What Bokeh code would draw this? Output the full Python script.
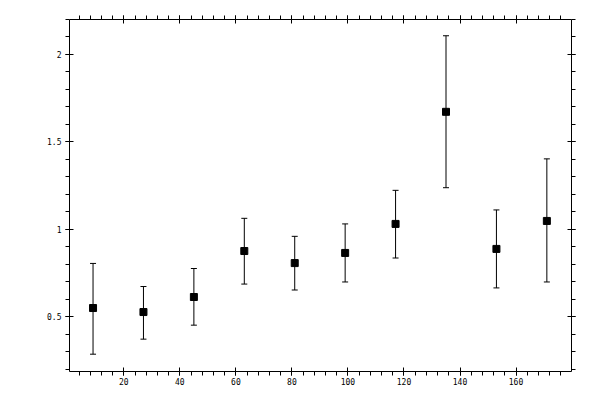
from bokeh.plotting import figure
from bokeh.models import (ColumnDataSource, Whisker, TeeHead, LinearAxis, Range1d,
                          SingleIntervalTicker, CustomJSTickFormatter)
from bokeh.embed import file_html
from bokeh.resources import INLINE

# data
x_vals = [9, 27, 45, 63, 81, 99, 117, 135, 153, 171]
y_vals = [0.550, 0.527, 0.613, 0.876, 0.807, 0.865, 1.031, 1.672, 0.888, 1.048]
y_upper = [0.805, 0.673, 0.776, 1.063, 0.960, 1.031, 1.223, 2.107, 1.111, 1.403]
y_lower = [0.286, 0.372, 0.452, 0.687, 0.653, 0.699, 0.836, 1.238, 0.665, 0.699]

src = ColumnDataSource(dict(x=x_vals, y=y_vals, upper=y_upper, lower=y_lower))

p = figure(width=584, height=390, output_backend="svg", toolbar_location=None,
           x_range=Range1d(0.6, 179.8), y_range=Range1d(0.187, 2.2),
           x_axis_location=None, y_axis_location=None,
           min_border_left=69, min_border_top=19, min_border_right=13, min_border_bottom=19)
p.frame_width = 502
p.frame_height = 352
p.outline_line_color = None
p.xgrid.visible = False
p.ygrid.visible = False
p.background_fill_color = "white"
p.border_fill_color = "white"

yfmt = CustomJSTickFormatter(code="return String(Math.round(tick*10)/10);")
blank = CustomJSTickFormatter(code="return '';")

def style(ax, show_labels):
    ax.axis_line_color = "black"
    ax.axis_line_width = 1
    ax.major_tick_line_color = "black"
    ax.minor_tick_line_color = "black"
    ax.major_tick_in = 4
    ax.major_tick_out = 4
    ax.minor_tick_in = 0
    ax.minor_tick_out = 4
    ax.major_label_text_font = "DejaVu Sans Mono"
    ax.major_label_text_font_size = "8px"
    ax.major_label_text_color = "black"
    if not show_labels:
        ax.formatter = blank
        ax.major_label_standoff = 0

for loc, show in (("below", True), ("above", False)):
    ax = LinearAxis(ticker=SingleIntervalTicker(interval=20, num_minor_ticks=5))
    style(ax, show)
    if show:
        ax.major_label_standoff = 2
    p.add_layout(ax, loc)

for loc, show in (("left", True), ("right", False)):
    ax = LinearAxis(ticker=SingleIntervalTicker(interval=0.5, num_minor_ticks=5), formatter=yfmt)
    style(ax, show)
    if show:
        ax.major_label_standoff = 4
    p.add_layout(ax, loc)

w = Whisker(source=src, base="x", upper="upper", lower="lower",
            line_color="black", line_width=1,
            upper_head=TeeHead(size=6, line_color="black", line_width=1),
            lower_head=TeeHead(size=6, line_color="black", line_width=1))
p.add_layout(w)

p.scatter("x", "y", source=src, marker="square", size=7,
          fill_color="black", line_color="black")

open("out.html", "w").write(file_html(p, INLINE))
